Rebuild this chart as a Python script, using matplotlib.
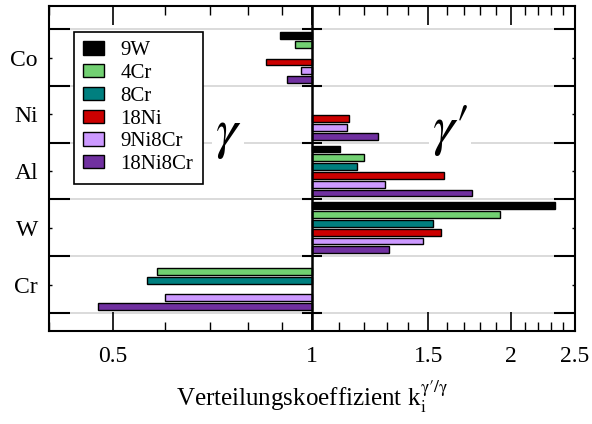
import numpy as np
import matplotlib
matplotlib.use("Agg")
import matplotlib.pyplot as plt
from matplotlib.ticker import FixedLocator, NullFormatter

plt.rcParams["font.family"] = ["Liberation Serif", "DejaVu Serif"]
plt.rcParams["mathtext.fontset"] = "stix"

# Elements (top to bottom) and alloy series
elements = ["Co", "Ni", "Al", "W", "Cr"]
series = ["9W", "4Cr", "8Cr", "18Ni", "9Ni8Cr", "18Ni8Cr"]
colors = ["#000000", "#72d072", "#007f7f", "#cc0000", "#cc99ff", "#7030a0"]

# Partition coefficients k_i^(gamma'/gamma); NaN = not measured
k_9W      = [0.895, np.nan, 1.103, 2.336, np.nan]
k_4Cr     = [0.942, np.nan, 1.198, 1.930, 0.582]
k_8Cr     = [np.nan, np.nan, 1.172, 1.528, 0.563]
k_18Ni    = [0.853, 1.138, 1.584, 1.567, np.nan]
k_9Ni8Cr  = [0.963, 1.129, 1.291, 1.475, 0.599]
k_18Ni8Cr = [0.916, 1.260, 1.747, 1.310, 0.474]
values = [k_9W, k_4Cr, k_8Cr, k_18Ni, k_9Ni8Cr, k_18Ni8Cr]

major_x = [0.5, 1, 1.5, 2, 2.5]
major_x_labels = ["0.5", "1", "1.5", "2", "2.5"]
minor_x = [0.4, 0.6, 0.7, 0.8, 0.9, 1.1, 1.2, 1.3, 1.4,
           1.6, 1.7, 1.8, 1.9, 2.1, 2.2, 2.3, 2.4]

fig = plt.figure(figsize=(5.92, 4.24), dpi=100)
ax = fig.add_axes([0.0828, 0.2193, 0.888, 0.7665])

ypos = np.arange(len(elements))
slot = 0.155
bar_h = 0.12
for j, (name, vals, col) in enumerate(zip(series, values, colors)):
    vals = np.asarray(vals, dtype=float)
    mask = ~np.isnan(vals)
    y = ypos + (j - 2.5) * slot
    ax.barh(y[mask], vals[mask] - 1.0, left=1.0, height=bar_h,
            color=col, edgecolor="black", linewidth=1.0, label=name, zorder=3)

ax.set_xscale("log")
ax.set_xlim(0.4, 2.5)
ax.set_ylim(len(elements) - 1 + 0.82, -0.91)

ax.xaxis.set_major_locator(FixedLocator(major_x))
ax.set_xticklabels(major_x_labels)
ax.xaxis.set_minor_locator(FixedLocator(minor_x))
ax.xaxis.set_minor_formatter(NullFormatter())

bounds = np.arange(len(elements) + 1) - 0.5
ax.set_yticks(bounds)
ax.set_yticklabels([""] * len(bounds))
ax.set_yticks(ypos, labels=elements, minor=True)

ax.tick_params(axis="x", which="major", direction="in", length=14, width=1.2,
               top=True, bottom=True, labelsize=17, pad=11)
ax.tick_params(axis="x", which="minor", direction="in", length=6.5, width=1.0,
               top=True, bottom=True)
ax.tick_params(axis="y", which="major", direction="in", length=15, width=1.5,
               left=True, right=True)
ax.tick_params(axis="y", which="minor", direction="in", length=2.5, width=1.0,
               left=True, right=True, labelsize=17, pad=8)

for b in bounds:
    ax.axhline(b, color="#d4d4d4", linewidth=1.2, zorder=0)

ax.axvline(1.0, color="black", linewidth=1.8, zorder=4)
ax.plot(np.ones_like(bounds), bounds, linestyle="none", marker="_",
        markersize=15, markeredgewidth=1.5, color="black", zorder=4,
        clip_on=False)

for s in ax.spines.values():
    s.set_linewidth(1.5)

ax.text(0.34, 0.603, r"$\gamma$", transform=ax.transAxes, fontsize=40,
        ha="center", va="center", zorder=2,
        bbox=dict(facecolor="white", edgecolor="none", pad=2))
ax.text(0.763, 0.618, r"$\gamma\prime$", transform=ax.transAxes, fontsize=40,
        ha="center", va="center", zorder=2,
        bbox=dict(facecolor="white", edgecolor="none", pad=2))

ax.set_xlabel(r"Verteilungskoeffizient k$_\mathrm{i}^{\mathrm{\gamma}\prime/\mathrm{\gamma}}$",
              fontsize=18, labelpad=8)

leg = ax.legend(loc="upper left", bbox_to_anchor=(0.047, 0.92), fontsize=15,
                frameon=True, fancybox=False, framealpha=1, edgecolor="black",
                handlelength=1.0, handleheight=0.6, handletextpad=0.8,
                labelspacing=0.18, borderpad=0.45, borderaxespad=0)
leg.get_frame().set_linewidth(1.2)
leg.set_zorder(5)

fig.savefig("out.png", dpi=100)
